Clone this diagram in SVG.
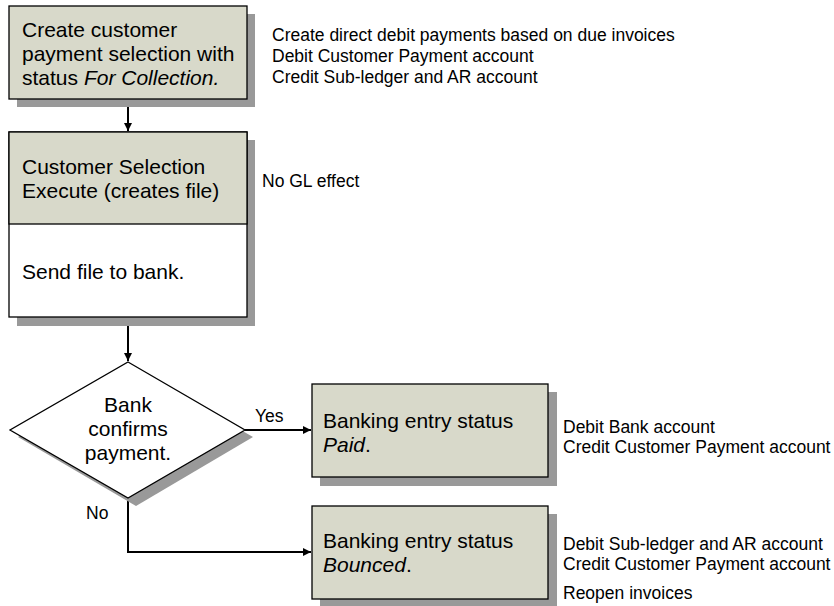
<svg xmlns="http://www.w3.org/2000/svg" width="834" height="606" viewBox="0 0 834 606">
<style>
.shadow{fill:#999999;stroke:none}
.box{fill:#d8d9ca;stroke:#000;stroke-width:1.3}
.white{fill:#ffffff;stroke:#000;stroke-width:1.3}
.t{font-family:"Liberation Sans",Arial,sans-serif;font-size:21px;fill:#000}
.n{font-family:"Liberation Sans",Arial,sans-serif;font-size:17.5px;fill:#000}
.c{fill:none;stroke:#000;stroke-width:2}
</style>
<defs>
<marker id="arr" markerWidth="8" markerHeight="8" refX="8" refY="4" orient="auto" markerUnits="userSpaceOnUse">
<path d="M0,0 L8,4 L0,8 Z" fill="#000"/>
</marker>
</defs>
<rect width="834" height="606" fill="#ffffff"/>
<g id="connectors">
<line class="c" x1="128" y1="99" x2="128" y2="131" marker-end="url(#arr)"/>
<line class="c" x1="128" y1="317" x2="128" y2="361" marker-end="url(#arr)"/>
<line class="c" x1="245" y1="430" x2="311" y2="430" marker-end="url(#arr)"/>
<polyline class="c" points="128,498 128,552 311,552" marker-end="url(#arr)"/>
</g>
<g id="n1">
<rect class="shadow" x="17" y="14" width="238" height="93"/>
<rect class="box" x="9" y="6" width="238" height="93"/>
<text class="t" x="22" y="37">Create customer</text>
<text class="t" x="22" y="61">payment selection with</text>
<text class="t" x="22" y="85">status <tspan font-style="italic">For Collection.</tspan></text>
</g>
<g id="note1">
<text class="n" x="272" y="41">Create direct debit payments based on due invoices</text>
<text class="n" x="272" y="62">Debit Customer Payment account</text>
<text class="n" x="272" y="83">Credit Sub-ledger and AR account</text>
</g>
<g id="n2">
<rect class="shadow" x="17" y="140" width="238" height="186"/>
<rect class="white" x="9" y="132" width="238" height="185"/>
<rect class="box" x="9" y="132" width="238" height="92"/>
<text class="t" x="22" y="174">Customer Selection</text>
<text class="t" x="22" y="198">Execute (creates file)</text>
<text class="t" x="22" y="279">Send file to bank.</text>
</g>
<g id="note2">
<text class="n" x="262" y="187">No GL effect</text>
</g>
<g id="d1">
<polygon class="shadow" points="136,370 253,437 136,506 18,437"/>
<polygon class="white" points="128,362 245,430 128,498 10,430"/>
<text class="t" x="128" y="412" text-anchor="middle">Bank</text>
<text class="t" x="128" y="436" text-anchor="middle">confirms</text>
<text class="t" x="128" y="460" text-anchor="middle">payment.</text>
</g>
<g id="labels">
<text class="n" x="255" y="422">Yes</text>
<text class="n" x="86" y="519">No</text>
</g>
<g id="n3">
<rect class="shadow" x="320" y="392" width="237" height="94"/>
<rect class="box" x="312" y="384" width="236" height="93"/>
<text class="t" x="323" y="428">Banking entry status</text>
<text class="t" x="323" y="452" font-style="italic">Paid<tspan font-style="normal">.</tspan></text>
</g>
<g id="note3">
<text class="n" x="563" y="433">Debit Bank account</text>
<text class="n" x="563" y="453">Credit Customer Payment account</text>
</g>
<g id="n4">
<rect class="shadow" x="320" y="514" width="237" height="94"/>
<rect class="box" x="312" y="506" width="236" height="93"/>
<text class="t" x="323" y="548">Banking entry status</text>
<text class="t" x="323" y="572" font-style="italic">Bounced<tspan font-style="normal">.</tspan></text>
</g>
<g id="note4">
<text class="n" x="563" y="550">Debit Sub-ledger and AR account</text>
<text class="n" x="563" y="570">Credit Customer Payment account</text>
<text class="n" x="563" y="599">Reopen invoices</text>
</g>
</svg>
